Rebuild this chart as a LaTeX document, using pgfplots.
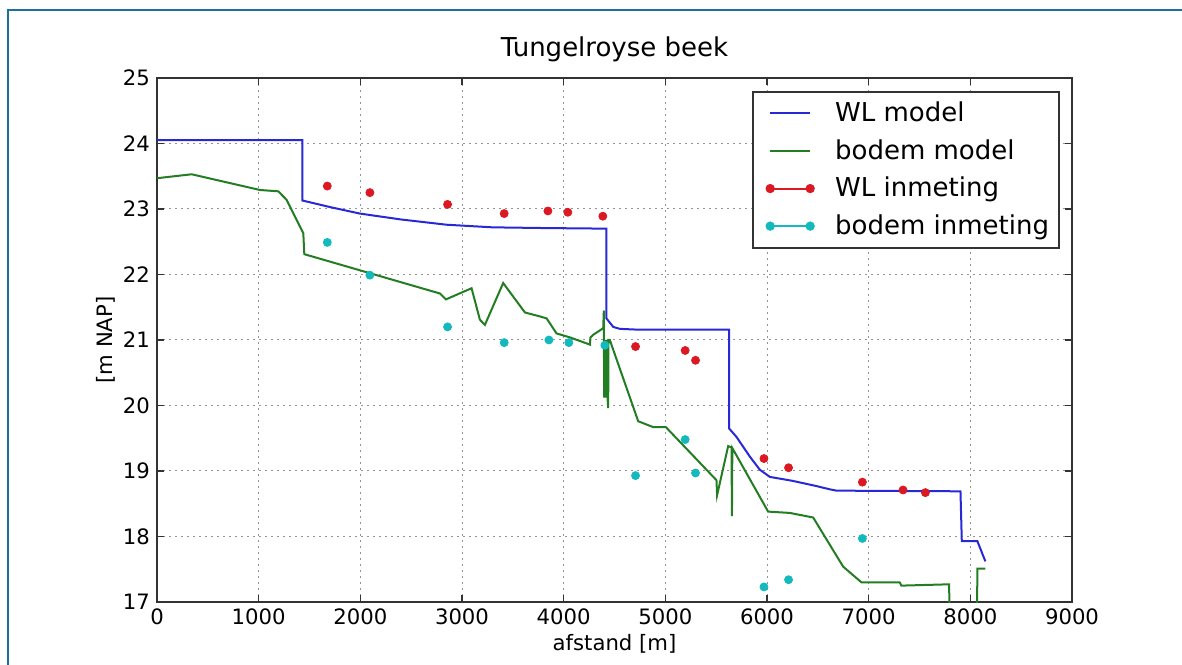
\documentclass[border=0pt]{standalone}
\usepackage{pgfplots}
\pgfplotsset{compat=1.18}
\usepackage{fontspec}
\setmainfont{DejaVu Sans}

\definecolor{wlblue}{RGB}{40,40,215}
\definecolor{bodgreen}{RGB}{35,125,35}
\definecolor{meetred}{RGB}{220,25,35}
\definecolor{meetcyan}{RGB}{20,185,190}
\definecolor{framecol}{RGB}{31,110,155}

\begin{document}
\begin{tikzpicture}
\begin{axis}[
  at={(78.5pt,31pt)}, anchor=south west,
  scale only axis, width=457.5pt, height=262pt,
  xmin=0, xmax=9000, ymin=17, ymax=25,
  xtick={0,1000,...,9000}, ytick={17,18,...,25},
  scaled x ticks=false,
  /pgf/number format/set thousands separator={},
  /pgf/number format/assume math mode=true,
  ticklabel style={font=\fontsize{10.6}{12}\selectfont},
  label style={font=\fontsize{10.6}{12}\selectfont},
  title style={font=\fontsize{13}{15}\selectfont, yshift=-1.5pt},
  title={Tungelroyse beek},
  xlabel={afstand [m]}, ylabel={[m NAP]},
  xlabel style={yshift=2pt},
  ylabel style={yshift=-3pt},
  grid=major,
  grid style={gray!85, line width=0.5pt, dash pattern=on 0.8pt off 2.2pt},
  axis line style={line width=1pt, black!80},
  tick style={black!80, line width=0.8pt},
  tick align=inside, major tick length=3.5pt,
  xtick pos=both, ytick pos=both,
  legend cell align=left,
  legend image code/.code={
    \path (-5pt,0pt) (30pt,0pt);
    \draw[#1] (0pt,0pt) -- (20pt,0pt);},
  legend style={at={(0.987,0.975)}, anchor=north east,
    draw=black!80, line width=1pt,
    font=\fontsize{13}{15}\selectfont,
    row sep=3.4pt, inner xsep=3pt, inner ysep=3pt},
]

% water level, model
\addplot[wlblue, line width=1pt] coordinates {
 (0,24.05) (1429,24.05) (1429,23.13) (1700,23.03) (1996,22.93) (2400,22.84)
 (2848,22.76) (3300,22.72) (3766,22.71) (4421,22.70) (4421,21.33)
 (4487,21.20) (4553,21.17) (4700,21.16) (5627,21.16) (5627,19.65)
 (5700,19.52) (5831,19.22) (5929,19.02) (6028,18.91) (6250,18.85)
 (6486,18.77) (6618,18.72) (6683,18.70) (7903,18.69) (7916,17.93)
 (8069,17.93) (8148,17.62)
};
\addlegendentry{WL model}

% bed level, model
\addplot[bodgreen, line width=1pt] coordinates {
 (0,23.47) (341,23.53) (1013,23.29) (1193,23.27) (1275,23.14) (1439,22.63)
 (1449,22.31) (2783,21.71) (2842,21.62) (3094,21.79) (3176,21.31)
 (3225,21.23) (3405,21.87) (3619,21.42) (3766,21.36) (3832,21.33)
 (3930,21.10) (4061,21.04) (4258,20.93) (4264,21.04) (4291,21.08)
 (4389,21.18) (4395,21.45) (4398,20.12) (4402,21.00) (4408,20.12)
 (4414,21.00) (4420,20.12) (4426,21.00) (4432,20.10) (4438,19.96)
 (4440,21.00) (4454,21.00) (4733,19.76) (4880,19.67) (5005,19.67)
 (5503,18.86) (5509,18.63) (5618,19.38) (5651,19.36) (5655,18.31)
 (5659,19.35) (6011,18.38) (6224,18.36) (6454,18.29) (6749,17.54)
 (6929,17.30) (7306,17.30) (7322,17.25) (7791,17.27) (7800,16.50)
 (8065,16.50) (8069,17.51) (8148,17.51)
};
\addlegendentry{bodem model}

% water level, measured
\addplot[only marks, mark=*, mark size=2pt, meetred, mark options={draw=meetred, fill=meetred},
  legend image code/.code={
    \path (-5pt,0pt) (30pt,0pt);
    \draw[meetred, line width=1pt] (0pt,0pt) -- (20pt,0pt);
    \fill[meetred] (0pt,0pt) circle (1.8pt);
    \fill[meetred] (20pt,0pt) circle (1.8pt);}] coordinates {
 (1675,23.35) (2094,23.25) (2858,23.07) (3415,22.93) (3845,22.97)
 (4041,22.95) (4385,22.89) (4707,20.90) (5195,20.84) (5297,20.69)
 (5970,19.19) (6212,19.05) (6938,18.83) (7338,18.71) (7558,18.67)
};
\addlegendentry{WL inmeting}

% bed level, measured
\addplot[only marks, mark=*, mark size=2pt, meetcyan, mark options={draw=meetcyan, fill=meetcyan},
  legend image code/.code={
    \path (-5pt,0pt) (30pt,0pt);
    \draw[meetcyan, line width=1pt] (0pt,0pt) -- (20pt,0pt);
    \fill[meetcyan] (0pt,0pt) circle (1.8pt);
    \fill[meetcyan] (20pt,0pt) circle (1.8pt);}] coordinates {
 (1675,22.49) (2094,21.99) (2858,21.20) (3415,20.96) (3855,21.00)
 (4051,20.96) (4405,20.92) (4707,18.93) (5195,19.48) (5297,18.97)
 (5970,17.23) (6212,17.34) (6938,17.97)
};
\addlegendentry{bodem inmeting}

\end{axis}
\draw[framecol, line width=1.1pt] (4pt,-2pt) -- (4pt,327pt) -- (593pt,327pt);
\pgfresetboundingbox
\path (0pt,0pt) rectangle (591pt,332pt);
\end{tikzpicture}
\end{document}
